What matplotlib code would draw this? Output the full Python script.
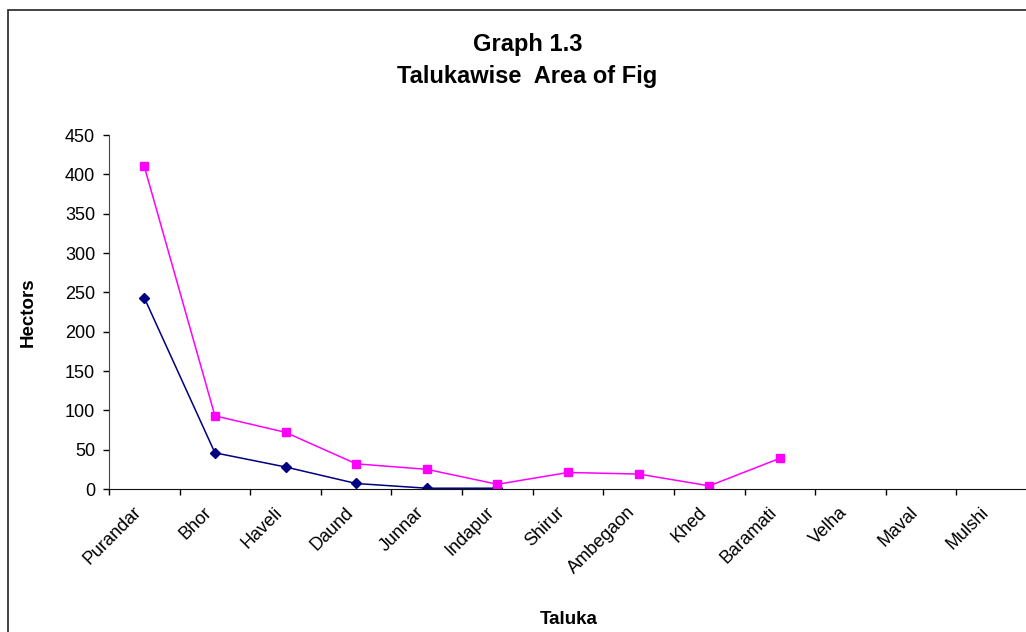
import matplotlib.pyplot as plt
from matplotlib.patches import Rectangle
import numpy as np

talukas = ["Purandar", "Bhor", "Haveli", "Daund", "Junnar", "Indapur", "Shirur",
           "Ambegaon", "Khed", "Baramati", "Velha", "Maval", "Mulshi"]
navy_vals = [243, 46, 28, 7, 1, 1]
pink_vals = [410, 93, 72, 32, 25, 6, 21, 19, 4, 39]

plt.rcParams['font.family'] = ['Liberation Sans', 'DejaVu Sans']

fig = plt.figure(figsize=(10.26, 6.32), dpi=100)
# outer chart frame, runs off the right and bottom edges
fig.patches.append(Rectangle((8/1026, -0.1), 1.2, 1.1 - 10/632, transform=fig.transFigure,
                             fill=False, edgecolor='#222222', linewidth=1.2))

ax = fig.add_axes([109/1026, 1 - 489/632, 918/1026, 354/632])

x = np.arange(len(talukas))
ax.plot(x[:len(navy_vals)], navy_vals, color='#000080', marker='D', markersize=5, linewidth=1.1)
ax.plot(x[:len(pink_vals)], pink_vals, color='#FF00FF', marker='s', markersize=5.5, linewidth=1.1)

ax.set_xlim(-0.5, len(talukas) - 0.5)
ax.set_ylim(0, 450)
ax.set_yticks(range(0, 451, 50))
ax.tick_params(axis='y', labelsize=13, direction='out', length=4, width=1, pad=6)

ax.set_xticks(np.arange(-0.5, len(talukas), 1))
ax.set_xticklabels([])
ax.tick_params(axis='x', direction='out', length=4, width=1)
for i, name in enumerate(talukas):
    ax.annotate(name, xy=(i, 0), xycoords='data', xytext=(-4, -15), textcoords='offset points',
                rotation=45, ha='right', va='center', rotation_mode='anchor', fontsize=13)

for s in ['top', 'right']:
    ax.spines[s].set_visible(False)
ax.spines['left'].set_color('#444444')
ax.spines['bottom'].set_color('#111111')

fig.text(528/1026, 1 - 45/632, "Graph 1.3", ha='center', va='center', fontsize=17, fontweight='bold')
fig.text(527/1026, 1 - 77/632, "Talukawise  Area of Fig", ha='center', va='center', fontsize=17, fontweight='bold')
fig.text(28/1026, 1 - 312/632, "Hectors", rotation=90, ha='center', va='center', fontsize=13.5, fontweight='bold')
fig.text(569/1026, 1 - 620/632, "Taluka", ha='center', va='center', fontsize=13.5, fontweight='bold')

fig.savefig("out.png", dpi=100)
